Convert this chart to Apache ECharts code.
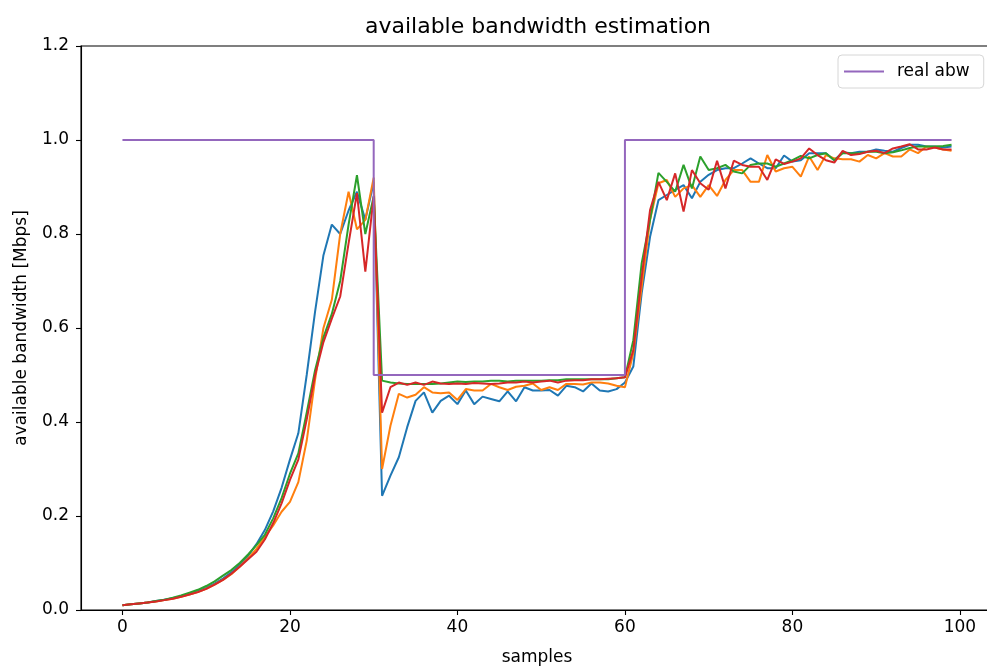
<!DOCTYPE html>
<html>
<head>
<meta charset="utf-8">
<script src="https://cdn.jsdelivr.net/npm/echarts@6/dist/echarts.min.js"></script>
<style>
html,body{margin:0;padding:0;background:#fff;}
#chart{width:987px;height:668px;}
</style>
</head>
<body>
<div id="chart"></div>
<script>
var titleText = 'available bandwidth estimation';
var xAxisName = 'samples';
var yAxisName = 'available bandwidth [Mbps]';
var xTicks = [0, 20, 40, 60, 80, 100];
var legendName = 'real abw';

var blue = [0.010,0.012,0.014,0.016,0.019,0.022,0.025,0.029,0.034,0.040,
0.047,0.056,0.067,0.080,0.096,0.115,0.140,0.170,0.210,0.260,
0.320,0.376,0.500,0.635,0.755,0.820,0.800,0.850,0.890,0.830,
0.910,
0.243,0.286,0.325,0.389,0.445,0.463,0.420,0.445,0.456,0.438,
0.467,0.438,0.454,0.449,0.444,0.465,0.444,0.474,0.467,0.467,
0.468,0.456,0.477,0.474,0.465,0.482,0.467,0.465,0.470,0.484,
0.518,0.674,0.794,0.872,0.883,0.894,0.904,0.876,0.911,0.926,
0.936,0.940,0.940,0.950,0.961,0.950,0.940,0.940,0.967,0.954,
0.957,0.972,0.972,0.972,0.957,0.974,0.972,0.975,0.975,0.980,
0.977,0.975,0.983,0.990,0.990,0.986,0.986,0.984,0.986];

var orange = [0.010,0.012,0.014,0.016,0.018,0.021,0.024,0.028,0.033,0.038,
0.045,0.054,0.064,0.076,0.092,0.110,0.130,0.155,0.180,0.209,
0.230,0.272,0.360,0.490,0.600,0.660,0.800,0.890,0.810,0.830,
0.920,
0.300,0.392,0.460,0.452,0.458,0.474,0.463,0.461,0.463,0.447,
0.470,0.467,0.467,0.481,0.474,0.468,0.475,0.477,0.482,0.468,
0.474,0.468,0.481,0.481,0.480,0.484,0.484,0.482,0.477,0.474,
0.546,0.688,0.830,0.908,0.915,0.879,0.897,0.904,0.879,0.904,
0.881,0.915,0.936,0.936,0.911,0.911,0.968,0.933,0.940,0.943,
0.922,0.965,0.936,0.968,0.961,0.959,0.959,0.954,0.968,0.961,
0.972,0.965,0.965,0.980,0.972,0.986,0.984,0.980,0.977];

var green = [0.010,0.012,0.014,0.016,0.019,0.022,0.026,0.031,0.037,0.043,
0.051,0.061,0.073,0.085,0.100,0.118,0.138,0.160,0.195,0.238,
0.290,0.333,0.420,0.510,0.580,0.630,0.700,0.820,0.925,0.800,
0.880,
0.488,0.484,0.482,0.481,0.481,0.481,0.481,0.482,0.484,0.486,
0.485,0.486,0.486,0.488,0.488,0.486,0.488,0.488,0.488,0.488,
0.489,0.489,0.491,0.491,0.491,0.491,0.491,0.491,0.493,0.495,
0.574,0.738,0.830,0.930,0.911,0.890,0.947,0.897,0.965,0.936,
0.940,0.947,0.933,0.929,0.947,0.950,0.950,0.943,0.950,0.957,
0.966,0.961,0.968,0.972,0.957,0.972,0.972,0.972,0.975,0.975,
0.972,0.974,0.978,0.983,0.986,0.986,0.986,0.987,0.990];

var red = [0.010,0.012,0.014,0.016,0.018,0.021,0.024,0.028,0.033,0.038,
0.045,0.054,0.064,0.077,0.092,0.108,0.124,0.150,0.185,0.227,
0.277,0.320,0.405,0.500,0.570,0.620,0.667,0.780,0.887,0.720,
0.880,
0.420,0.474,0.484,0.479,0.484,0.479,0.486,0.482,0.481,0.482,
0.481,0.483,0.482,0.481,0.482,0.484,0.484,0.486,0.484,0.486,
0.488,0.484,0.488,0.489,0.489,0.491,0.491,0.492,0.493,0.495,
0.553,0.709,0.851,0.911,0.872,0.929,0.848,0.936,0.908,0.894,
0.956,0.897,0.956,0.947,0.943,0.943,0.915,0.959,0.949,0.954,
0.961,0.982,0.968,0.957,0.952,0.977,0.968,0.970,0.975,0.977,
0.972,0.982,0.986,0.991,0.980,0.980,0.984,0.980,0.980];

var realAbw = [1,1,1,1,1,1,1,1,1,1,
1,1,1,1,1,1,1,1,1,1,
1,1,1,1,1,1,1,1,1,1,
0.5,0.5,0.5,0.5,0.5,0.5,0.5,0.5,0.5,0.5,
0.5,0.5,0.5,0.5,0.5,0.5,0.5,0.5,0.5,0.5,
0.5,0.5,0.5,0.5,0.5,0.5,0.5,0.5,0.5,0.5,
1,1,1,1,1,1,1,1,1,1,
1,1,1,1,1,1,1,1,1,1,
1,1,1,1,1,1,1,1,1,1,
1,1,1,1,1,1,1,1,1,1];

function pairs(arr){ return arr.map(function(v,i){ return [i, v]; }); }

var FONT = 'DejaVu Sans';
var chart = echarts.init(document.getElementById('chart'), null, {renderer:'canvas'});

function lineSeries(name, arr, color, extra){
  var s = {
    name: name, type: 'line', data: pairs(arr), showSymbol: false, symbol: 'none',
    lineStyle: {color: color, width: 2}, itemStyle: {color: color},
    animation: false, z: 2
  };
  if (extra) for (var k in extra) s[k] = extra[k];
  return s;
}

chart.setOption({
  animation: false,
  backgroundColor: '#fff',
  title: {
    text: titleText, left: 533, top: 11, textAlign: 'center',
    textStyle: {fontFamily: FONT, fontSize: 22, fontWeight: 'normal', color: '#000'}
  },
  legend: {
    data: [legendName], left: 838, top: 55,
    padding: [8, 14, 8, 6],
    itemWidth: 40, itemHeight: 2, icon: 'rect',
    backgroundColor: '#fff', borderColor: '#d6d6d6', borderWidth: 1, borderRadius: 4,
    textStyle: {fontFamily: FONT, fontSize: 17, color: '#000', padding: [0, 0, 0, 8]}
  },
  grid: {left: 81, top: 46, right: -6, bottom: 58, show: true, borderColor: '#000', borderWidth: 1.1,
    containLabel: false, outerBoundsMode: 'none'},
  xAxis: {
    type: 'value', min: -4.95, max: 103.95,
    name: xAxisName, nameLocation: 'middle', nameGap: 39,
    nameTextStyle: {fontFamily: FONT, fontSize: 17, color: '#000'},
    axisLine: {show: true, onZero: false, lineStyle: {color: '#000', width: 1.1}},
    axisTick: {show: true, customValues: xTicks, length: 5, lineStyle: {color: '#000', width: 1.1}},
    axisLabel: {customValues: xTicks, fontFamily: FONT, fontSize: 17, color: '#000', margin: 9},
    splitLine: {show: false}
  },
  yAxis: {
    type: 'value', min: 0, max: 1.2, interval: 0.2,
    name: yAxisName, nameLocation: 'middle', nameGap: 51, nameRotate: 90,
    nameTextStyle: {fontFamily: FONT, fontSize: 17, color: '#000'},
    axisLine: {show: true, onZero: false, lineStyle: {color: '#000', width: 1.1}},
    axisTick: {show: true, length: 5, lineStyle: {color: '#000', width: 1.1}},
    axisLabel: {fontFamily: FONT, fontSize: 17, color: '#000', margin: 12,
      formatter: function(v){ return v.toFixed(1); }},
    splitLine: {show: false}
  },
  series: [
    lineSeries('est1', blue, '#1f77b4'),
    lineSeries('est2', orange, '#ff7f0e'),
    lineSeries('est3', green, '#2ca02c'),
    lineSeries('est4', red, '#d62728'),
    lineSeries(legendName, realAbw, '#9467bd', {step: 'end'})
  ]
});
</script>
</body>
</html>
